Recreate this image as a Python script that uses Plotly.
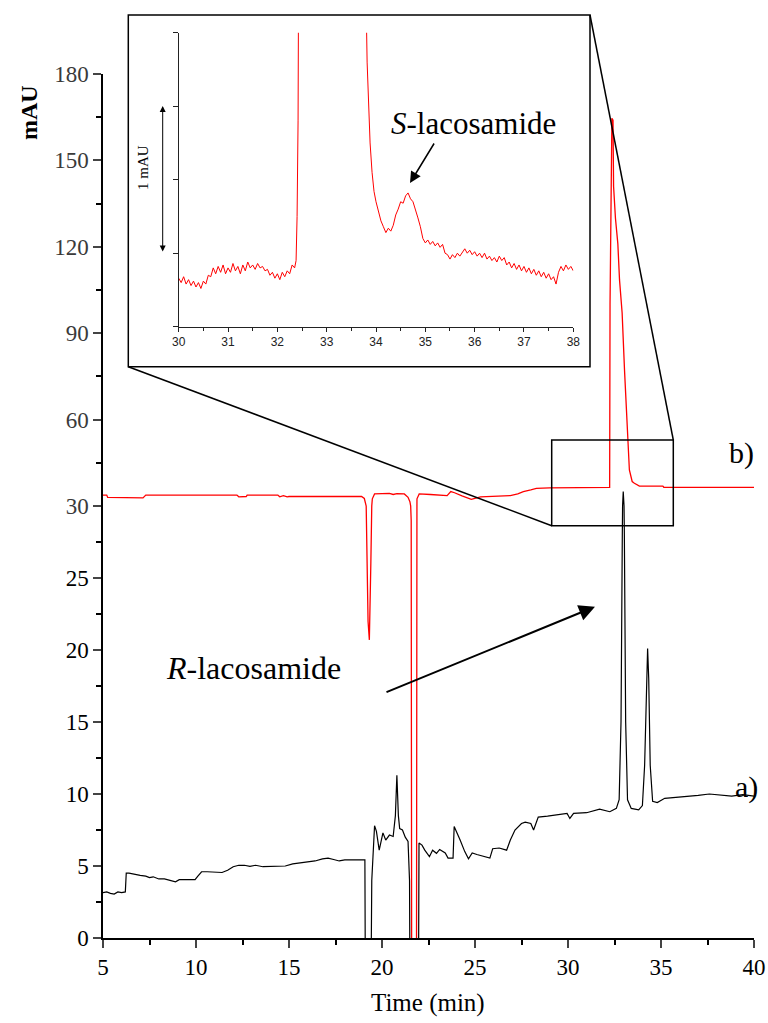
import plotly.graph_objects as go

# ---------------- data ----------------
# trace a) (black) : time (min), signal (mAU)
a_time = [5.0, 5.2, 5.4, 5.6, 5.8, 6.0, 6.2, 6.25, 6.4, 6.7, 7.0, 7.3, 7.5, 7.7, 8.0, 8.3, 8.6, 8.9,
          9.1, 9.4, 9.7, 9.95, 10.1, 10.3, 10.6, 11.0, 11.4, 11.7, 12.0, 12.3, 12.6, 12.9, 13.2, 13.6,
          14.0, 14.4, 14.8, 15.2, 15.6, 16.0, 16.4, 16.8, 17.1, 17.4, 17.7, 18.0, 18.4, 18.8, 19.08,
          19.12, 19.38, 19.45, 19.6, 19.7, 19.85, 20.05, 20.2, 20.4, 20.6, 20.72, 20.8, 20.88, 20.95,
          21.1, 21.25, 21.4, 21.48, 21.52, 21.95, 21.99, 22.15, 22.3, 22.55, 22.72, 22.93, 23.1, 23.4,
          23.55, 23.82, 23.88, 24.2, 24.45, 24.65, 24.85, 25.1, 25.45, 25.8, 25.95, 26.3, 26.7, 26.9,
          27.15, 27.5, 27.7, 28.0, 28.15, 28.4, 28.9, 29.5, 29.95, 30.1, 30.3, 31.0, 31.7, 32.25, 32.6,
          32.75, 32.85, 32.92, 32.97, 33.03, 33.1, 33.2, 33.4, 33.8, 34.0, 34.12, 34.22, 34.28, 34.34,
          34.42, 34.55, 34.8, 35.2, 35.8, 36.3, 37.0, 37.6, 38.2, 38.8, 39.4, 40.0]
a_signal = [3.15, 3.2, 3.1, 3.05, 3.2, 3.15, 3.2, 4.5, 4.5, 4.4, 4.35, 4.3, 4.2, 4.25, 4.1, 4.1, 4.0, 3.9,
            4.05, 4.05, 4.0, 4.05, 4.3, 4.6, 4.6, 4.55, 4.55, 4.7, 4.95, 5.05, 5.05, 4.98, 5.05, 4.95,
            4.95, 5.0, 5.0, 5.15, 5.2, 5.3, 5.35, 5.5, 5.55, 5.45, 5.35, 5.42, 5.4, 5.42, 5.42,
            -8, -8, 4.0, 7.8, 7.4, 6.1, 7.3, 6.8, 7.15, 7.05, 8.5, 11.3, 8.5, 7.6,
            7.5, 7.0, 6.7, 4.0, -8, -8, 6.6, 6.45, 6.1, 5.65, 6.1, 5.88, 6.15, 5.9,
            5.55, 5.55, 7.75, 6.8, 6.0, 5.5, 5.9, 5.8, 5.65, 5.55, 6.2, 6.25, 6.1, 6.8,
            7.5, 7.95, 8.05, 7.95, 7.5, 8.4, 8.47, 8.55, 8.65, 8.3, 8.65, 8.7, 8.95, 8.77, 9.0,
            9.6, 15.0, 28.0, 35.0, 28.0, 15.0, 9.6, 9.0, 8.9, 9.2, 12.0, 18.0, 20.1, 18.0,
            12.0, 9.5, 9.4, 9.7, 9.75, 9.8, 9.9, 10.0, 9.95, 9.85, 9.95, 9.85]

# trace b) (red)
b_time = [5.0, 5.2, 5.25, 7.05, 7.15, 7.3, 12.2, 12.3, 12.7, 12.75, 14.4, 14.5, 14.7, 14.9, 15.0,
          18.9, 19.05, 19.15, 19.25, 19.32, 19.4, 19.48, 19.6, 20.0, 20.4, 20.6, 20.8, 21.2, 21.4,
          21.5, 21.57, 21.6, 21.85, 21.88, 22.0, 22.6, 23.5, 23.7, 23.9, 24.3, 24.8, 25.3, 26.0,
          26.9, 27.3, 27.6, 28.0, 28.3, 29.0, 30.0, 31.0, 32.2, 32.24, 32.26, 32.33, 32.36, 32.42,
          32.45, 32.55, 32.68, 32.77, 32.91, 33.04, 33.21, 33.3, 33.45, 33.57, 33.84, 35.1, 35.15, 40.0]
b_signal = [33.8, 33.8, 33.0, 33.0, 32.8, 33.8, 33.8, 33.2, 33.3, 33.8, 33.8, 33.2, 33.6, 33.2, 33.3,
            33.3, 32.6, 30.0, 22.0, 20.7, 26.0, 32.5, 34.2, 34.3, 34.4, 34.0, 34.3, 34.2, 33.0,
            31.5, 29.0, -10, -10, 32.5, 34.2, 34.0, 33.6, 35.0, 34.6, 33.5, 32.3, 33.2, 33.4,
            33.6, 34.2, 35.0, 35.6, 36.1, 36.3, 36.3, 36.3, 36.3, 36.5, 100.0, 150.0, 164.6, 164.0,
            141.0, 130.0, 121.0, 108.5, 97.0, 77.0, 56.0, 42.5, 38.5, 37.9, 36.9, 36.9, 36.5, 36.5]

# inset: trace b) between 30 and 38 min
inset_time = [30.00, 30.05, 30.10, 30.15, 30.20, 30.25, 30.30, 30.35, 30.40, 30.45, 30.50, 30.55,
              30.60, 30.65, 30.70, 30.75, 30.80, 30.85, 30.90, 30.95, 31.00, 31.05, 31.10, 31.15,
              31.20, 31.25, 31.30, 31.35, 31.40, 31.45, 31.50, 31.55, 31.60, 31.65, 31.70, 31.75,
              31.80, 31.85, 31.90, 31.95, 32.00, 32.05, 32.10, 32.15, 32.20, 32.25, 32.30, 32.35,
              32.38, 32.40, 32.42, 32.44, 32.50, 33.75, 33.80, 33.82, 33.85, 33.88, 33.92, 33.96,
              34.00, 34.05, 34.10, 34.15, 34.20, 34.25, 34.30, 34.35, 34.40, 34.45, 34.50, 34.55,
              34.60, 34.65, 34.70, 34.75, 34.80, 34.85, 34.90, 34.95, 35.00, 35.05, 35.10, 35.15,
              35.20, 35.25, 35.30, 35.35, 35.40, 35.45, 35.50, 35.55, 35.60, 35.65, 35.70, 35.75,
              35.80, 35.85, 35.90, 35.95, 36.00, 36.05, 36.10, 36.15, 36.20, 36.25, 36.30, 36.35,
              36.40, 36.45, 36.50, 36.55, 36.60, 36.65, 36.70, 36.75, 36.80, 36.85, 36.90, 36.95,
              37.00, 37.05, 37.10, 37.15, 37.20, 37.25, 37.30, 37.35, 37.40, 37.45, 37.50, 37.55,
              37.60, 37.65, 37.70, 37.75, 37.80, 37.85, 37.90, 37.95, 38.00]
inset_signal = [36.33, 36.30, 36.34, 36.29, 36.32, 36.28, 36.31, 36.27, 36.30, 36.26, 36.31, 36.29,
                36.35, 36.34, 36.40, 36.36, 36.41, 36.37, 36.42, 36.36, 36.40, 36.37, 36.43, 36.38,
                36.41, 36.36, 36.42, 36.38, 36.44, 36.40, 36.42, 36.39, 36.43, 36.40, 36.41, 36.38,
                36.39, 36.35, 36.37, 36.33, 36.36, 36.32, 36.37, 36.34, 36.38, 36.36, 36.42, 36.40,
                36.45, 36.75, 37.40, 38.50, 45.0, 45.0, 38.20, 37.80, 37.50, 37.25, 37.05, 36.92,
                36.85, 36.78, 36.72, 36.68, 36.64, 36.67, 36.65, 36.69, 36.76, 36.80, 36.85, 36.84,
                36.89, 36.91, 36.87, 36.85, 36.80, 36.74, 36.68, 36.60, 36.57, 36.59, 36.56, 36.58,
                36.55, 36.57, 36.54, 36.56, 36.50, 36.49, 36.46, 36.49, 36.47, 36.50, 36.48, 36.51,
                36.53, 36.50, 36.52, 36.49, 36.51, 36.48, 36.50, 36.47, 36.50, 36.46, 36.48, 36.45,
                36.47, 36.44, 36.48, 36.45, 36.47, 36.42, 36.44, 36.40, 36.43, 36.39, 36.42, 36.38,
                36.41, 36.37, 36.40, 36.36, 36.39, 36.35, 36.38, 36.34, 36.37, 36.33, 36.36, 36.32,
                36.34, 36.29, 36.37, 36.41, 36.38, 36.42, 36.39, 36.41, 36.38]

x_ticks = [5, 10, 15, 20, 25, 30, 35, 40]
y_low_ticks = [0, 5, 10, 15, 20, 25]
y_high_ticks = [30, 60, 90, 120, 150, 180]
inset_x_ticks = [30, 31, 32, 33, 34, 35, 36, 37, 38]
inset_y_ticks = [36.0, 36.5, 37.0, 37.5, 38.0]

# ---------------- figure ----------------
SERIF = "Liberation Serif"
SANS = "Liberation Sans"

fig = go.Figure()
for yax in ["y", "y2"]:
    fig.add_trace(go.Scatter(x=b_time, y=b_signal, mode="lines", xaxis="x", yaxis=yax,
                             line=dict(color="#ff0000", width=1.3), showlegend=False,
                             hoverinfo="skip"))
    fig.add_trace(go.Scatter(x=a_time, y=a_signal, mode="lines", xaxis="x", yaxis=yax,
                             line=dict(color="#000000", width=1.2), showlegend=False,
                             hoverinfo="skip"))
fig.add_trace(go.Scatter(x=inset_time, y=inset_signal, mode="lines", xaxis="x2", yaxis="y3",
                         line=dict(color="#ff0000", width=1), showlegend=False, hoverinfo="skip"))

H = 928   # plot height in px
W = 651
L0 = 103
B0 = 938


def px(xp):
    return (xp - L0) / W


def py(yp):
    return (B0 - yp) / H


low_top = 432 / H
main_top = 864 / H

axis_common = dict(showline=True, linecolor="black", linewidth=1.5, ticks="outside",
                   tickwidth=1.5, ticklen=8, showgrid=False, zeroline=False)

fig.update_layout(
    width=768, height=1023,
    margin=dict(l=L0, r=768 - L0 - W, t=B0 - H, b=1023 - B0, autoexpand=False),
    paper_bgcolor="white", plot_bgcolor="rgba(0,0,0,0)",
    showlegend=False,
    xaxis=dict(domain=[0, 1], range=[5, 40], anchor="y", tickvals=x_ticks,
               tickfont=dict(family=SERIF, size=23, color="black"),
               minor=dict(dtick=2.5, tick0=5, ticks="outside", ticklen=5, tickwidth=1.5,
                          tickcolor="black"),
               **axis_common),
    yaxis=dict(domain=[0, low_top], range=[0, 30], anchor="x", tickvals=y_low_ticks,
               tickfont=dict(family=SERIF, size=23, color="black"),
               minor=dict(dtick=2.5, tick0=0, ticks="outside", ticklen=5, tickwidth=1.5,
                          tickcolor="black"),
               **axis_common),
    yaxis2=dict(domain=[low_top, main_top], range=[30, 180], anchor="x", tickvals=y_high_ticks,
                tickfont=dict(family=SERIF, size=23, color="#3a3a3a"),
                minor=dict(dtick=15, tick0=30, ticks="outside", ticklen=5, tickwidth=1.5,
                           tickcolor="black"),
                **axis_common),
    xaxis2=dict(domain=[px(178.7), px(573.3)], range=[30, 38], anchor="y3", tickvals=inset_x_ticks,
                showline=True, linecolor="#222", linewidth=1, ticks="outside", ticklen=4,
                tickwidth=1, tickcolor="#222", showgrid=False, zeroline=False,
                tickfont=dict(family=SANS, size=12, color="#222"),
                minor=dict(dtick=0.5, tick0=30, ticks="outside", ticklen=3, tickwidth=1,
                           tickcolor="#222")),
    yaxis3=dict(domain=[py(326.7), py(32.7)], range=[36, 38], anchor="x2", tickvals=inset_y_ticks,
                showticklabels=False, showline=True, linecolor="#222", linewidth=1,
                ticks="outside", ticklen=5, tickwidth=1, tickcolor="#222", showgrid=False,
                zeroline=False),
)

line_style = dict(color="black", width=1.5)
fig.add_shape(type="rect", xref="paper", yref="paper", x0=px(128.3), x1=px(590), y0=py(366.7),
              y1=py(15), line=line_style)
fig.add_shape(type="rect", xref="paper", yref="paper", x0=px(551.7), x1=px(673.3), y0=py(525.7),
              y1=py(440), line=line_style)
fig.add_shape(type="line", xref="paper", yref="paper", x0=px(128.3), y0=py(366.7), x1=px(551.7),
              y1=py(525.7), line=line_style)
fig.add_shape(type="line", xref="paper", yref="paper", x0=px(590), y0=py(15), x1=px(673.3),
              y1=py(440), line=line_style)


def label(text, cx, cy, size, angle=0, xanchor="center"):
    return dict(text=text, x=px(cx), y=py(cy), xref="paper", yref="paper", showarrow=False,
                textangle=angle, xanchor=xanchor, yanchor="middle",
                font=dict(family=SERIF, size=size, color="black"))


ann = [
    label("<b>mAU</b>", 29, 113, 24, angle=-90),
    label("Time (min)", 428, 1003, 25),
    label("<i>R</i>-lacosamide", 164, 668, 32, xanchor="left"),
    label("<i>S</i>-lacosamide", 389, 123, 31, xanchor="left"),
    label("b)", 741, 453, 30),
    label("a)", 746, 787, 30),
    label("1 mAU", 143, 168, 15, angle=-90),
]
# arrows
ann.append(dict(text="", x=px(162.7), y=py(106), xref="paper", yref="paper", showarrow=True,
                ax=0, ay=147, arrowside="end+start", arrowhead=2, arrowsize=1.2, arrowwidth=1,
                arrowcolor="black", standoff=0, startstandoff=0, startarrowhead=2,
                startarrowsize=1.2))
ann.append(dict(text="", x=px(595), y=py(606.7), xref="paper", yref="paper", showarrow=True,
                ax=-210, ay=86, arrowhead=2, arrowsize=1.6, arrowwidth=2, arrowcolor="black",
                standoff=0))
ann.append(dict(text="", x=px(410), y=py(183), xref="paper", yref="paper", showarrow=True,
                ax=25, ay=-41, arrowhead=2, arrowsize=1.5, arrowwidth=1.5, arrowcolor="black",
                standoff=0))
fig.update_layout(annotations=ann)

fig.write_html("out.html")
